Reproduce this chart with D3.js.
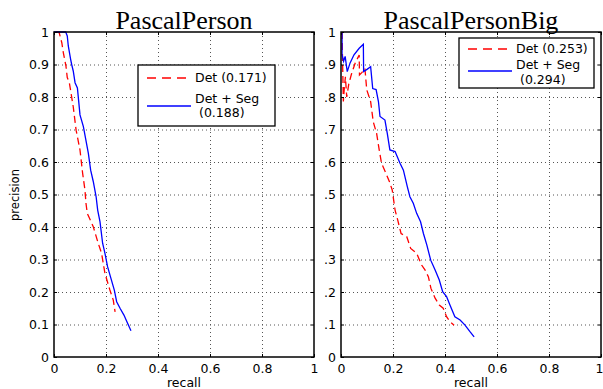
<!DOCTYPE html>
<html>
<head>
<meta charset="utf-8">
<script src="https://cdn.jsdelivr.net/npm/d3@7"></script>
<style>
  body { margin: 0; background: #fff; }
</style>
</head>
<body>
<div id="chart"></div>
<script>
// precision/recall values
var leftDetRecall = [0.008, 0.02, 0.03, 0.036, 0.046, 0.051, 0.059, 0.074, 0.085, 0.1, 0.11, 0.119, 0.123, 0.128, 0.151, 0.17, 0.183, 0.196, 0.215, 0.228, 0.235];
var leftDetPrec   = [1.0, 0.998, 0.967, 0.936, 0.895, 0.86, 0.844, 0.77, 0.698, 0.637, 0.566, 0.514, 0.473, 0.442, 0.401, 0.35, 0.319, 0.257, 0.206, 0.175, 0.139];

var leftSegRecall = [0.0, 0.045, 0.051, 0.055, 0.064, 0.068, 0.074, 0.081, 0.09, 0.1, 0.113, 0.132, 0.141, 0.151, 0.162, 0.168, 0.177, 0.187, 0.196, 0.206, 0.219, 0.232, 0.241, 0.254, 0.269, 0.28, 0.296];
var leftSegPrec   = [1.0, 1.0, 0.988, 0.957, 0.916, 0.9, 0.88, 0.844, 0.828, 0.745, 0.709, 0.627, 0.575, 0.54, 0.493, 0.452, 0.416, 0.35, 0.319, 0.278, 0.242, 0.206, 0.17, 0.15, 0.129, 0.109, 0.081];

var rightDetRecall = [0.004, 0.009, 0.013, 0.017, 0.022, 0.03, 0.04, 0.055, 0.07, 0.071, 0.08, 0.092, 0.099, 0.114, 0.124, 0.137, 0.147, 0.156, 0.173, 0.186, 0.197, 0.208, 0.218, 0.231, 0.253, 0.268, 0.291, 0.31, 0.323, 0.336, 0.346, 0.362, 0.378, 0.393, 0.406, 0.419, 0.435];
var rightDetPrec   = [1.0, 0.786, 0.83, 0.862, 0.8, 0.84, 0.87, 0.905, 0.929, 0.868, 0.875, 0.888, 0.822, 0.786, 0.724, 0.688, 0.637, 0.596, 0.565, 0.54, 0.514, 0.452, 0.422, 0.38, 0.37, 0.334, 0.319, 0.283, 0.268, 0.247, 0.211, 0.181, 0.16, 0.15, 0.124, 0.109, 0.098];

var rightSegRecall = [0.004, 0.004, 0.01, 0.016, 0.024, 0.035, 0.05, 0.07, 0.086, 0.087, 0.1, 0.114, 0.122, 0.135, 0.144, 0.15, 0.169, 0.178, 0.188, 0.208, 0.227, 0.24, 0.255, 0.265, 0.278, 0.291, 0.306, 0.317, 0.33, 0.345, 0.362, 0.378, 0.391, 0.406, 0.419, 0.438, 0.458, 0.477, 0.496, 0.512];
var rightSegPrec   = [1.0, 0.93, 0.91, 0.925, 0.878, 0.905, 0.93, 0.95, 0.962, 0.878, 0.885, 0.893, 0.826, 0.823, 0.786, 0.74, 0.729, 0.688, 0.637, 0.632, 0.596, 0.575, 0.524, 0.493, 0.473, 0.442, 0.416, 0.38, 0.345, 0.298, 0.268, 0.237, 0.201, 0.186, 0.16, 0.124, 0.114, 0.098, 0.078, 0.062];

var titles = ["PascalPerson", "PascalPersonBig"];
var leftLegend = ["Det (0.171)", "Det + Seg", "(0.188)"];
var rightLegend = ["Det (0.253)", "Det + Seg", "(0.294)"];

var xTicks = [0, 0.2, 0.4, 0.6, 0.8, 1];
var yTicks = [0, 0.1, 0.2, 0.3, 0.4, 0.5, 0.6, 0.7, 0.8, 0.9, 1];
var leftYLabels = ["0", "0.1", "0.2", "0.3", "0.4", "0.5", "0.6", "0.7", "0.8", "0.9", "1"];
var rightYLabels = ["0", ".1", ".2", ".3", ".4", ".5", ".6", ".7", ".8", ".9", "1"];

var sans = "'DejaVu Sans', sans-serif";

var svg = d3.select("#chart").append("svg")
  .attr("width", 603)
  .attr("height", 389);

var width = 260, height = 325;

function zip(r, p) { return r.map(function(d, i) { return [d, p[i]]; }); }

function makePanel(left, top, title, yLabels, det, seg, legend, box) {
  var g = svg.append("g").attr("transform", "translate(" + left + "," + top + ")");
  var x = d3.scaleLinear().domain([0, 1]).range([0, width]);
  var y = d3.scaleLinear().domain([0, 1]).range([height, 0]);

  // dotted grid
  g.append("g")
    .attr("transform", "translate(0," + height + ")")
    .call(d3.axisBottom(x).tickValues([0.2, 0.4, 0.6, 0.8]).tickSize(-height).tickFormat(""))
    .call(function(a) { a.select(".domain").remove(); })
    .selectAll("line").attr("stroke", "#555").attr("stroke-dasharray", "1,3");
  g.append("g")
    .call(d3.axisLeft(y).tickValues(yTicks.slice(1, 10)).tickSize(-width).tickFormat(""))
    .call(function(a) { a.select(".domain").remove(); })
    .selectAll("line").attr("stroke", "#555").attr("stroke-dasharray", "1,3");

  // curves
  var line = d3.line().x(function(d) { return x(d[0]); }).y(function(d) { return y(d[1]); });
  g.append("path").datum(det)
    .attr("d", line).attr("fill", "none").attr("stroke", "#ff0000")
    .attr("stroke-width", 1.3).attr("stroke-dasharray", "7,4");
  g.append("path").datum(seg)
    .attr("d", line).attr("fill", "none").attr("stroke", "#0000ff")
    .attr("stroke-width", 1.3);

  // axes with inward ticks
  g.append("g")
    .attr("transform", "translate(0," + height + ")")
    .call(d3.axisBottom(x).tickValues(xTicks).tickSizeInner(-3).tickSizeOuter(0).tickPadding(7)
      .tickFormat(function(d) { return d3.format("")(d); }))
    .selectAll(".tick text").filter(function(d) { return d === 1 && left > 300; })
      .attr("dx", -2);
  g.append("g")
    .call(d3.axisLeft(y).tickValues(yTicks).tickSizeInner(-3).tickSizeOuter(0).tickPadding(5)
      .tickFormat(function(d, i) { return yLabels[i]; }));
  g.append("g")
    .call(d3.axisTop(x).tickValues(xTicks).tickSizeInner(-3).tickSizeOuter(0).tickFormat(""));
  g.append("g")
    .attr("transform", "translate(" + width + ",0)")
    .call(d3.axisRight(y).tickValues(yTicks).tickSizeInner(-3).tickSizeOuter(0).tickFormat(""));

  g.selectAll(".tick text").attr("font-size", 12.5).attr("fill", "#000")
    .style("font-family", sans);
  g.selectAll(".domain").remove();
  g.selectAll(".tick line").filter(function() { return !this.getAttribute("stroke-dasharray"); })
    .attr("stroke", "#000");

  g.append("rect")
    .attr("width", width).attr("height", height)
    .attr("fill", "none").attr("stroke", "#000").attr("stroke-width", 1.5);

  g.append("text")
    .attr("x", width / 2).attr("y", -3)
    .attr("text-anchor", "middle")
    .style("font-family", "'Liberation Serif', 'Times New Roman', serif")
    .attr("font-size", 26)
    .text(title);

  g.append("text")
    .attr("x", width / 2).attr("y", height + 30)
    .attr("text-anchor", "middle")
    .style("font-family", sans)
    .attr("font-size", 12.5)
    .text("recall");

  // legend
  var lg = g.append("g").attr("transform", "translate(" + (box.x - left) + "," + (box.y - top) + ")");
  lg.append("rect").attr("width", box.w).attr("height", box.h)
    .attr("fill", "#fff").attr("stroke", "#000").attr("stroke-width", 1.3);
  lg.append("line").attr("x1", 9).attr("x2", 53).attr("y1", box.r1).attr("y2", box.r1)
    .attr("stroke", "#ff0000").attr("stroke-width", 1.3).attr("stroke-dasharray", "9,6");
  lg.append("line").attr("x1", 9).attr("x2", 53).attr("y1", box.r2).attr("y2", box.r2)
    .attr("stroke", "#0000ff").attr("stroke-width", 1.3);
  lg.append("text").attr("x", 57).attr("y", box.r1).attr("dy", "0.35em")
    .attr("font-size", 12.5).style("font-family", sans).text(legend[0]);
  lg.append("text").attr("x", 57).attr("y", box.t2).attr("dy", "0.35em")
    .attr("font-size", 12.5).style("font-family", sans).text(legend[1]);
  lg.append("text").attr("x", 61).attr("y", box.t3).attr("dy", "0.35em")
    .attr("font-size", 12.5).style("font-family", sans).text(legend[2]);

  return g;
}

makePanel(54, 32, titles[0], leftYLabels,
  zip(leftDetRecall, leftDetPrec), zip(leftSegRecall, leftSegPrec), leftLegend,
  {x: 138, y: 65, w: 137, h: 61, r1: 13, r2: 41, t2: 34, t3: 48});

makePanel(341, 32, titles[1], rightYLabels,
  zip(rightDetRecall, rightDetPrec), zip(rightSegRecall, rightSegPrec), rightLegend,
  {x: 459, y: 38, w: 135, h: 50, r1: 11, r2: 33, t2: 27, t3: 42});

svg.append("text")
  .attr("transform", "translate(19,195) rotate(-90)")
  .attr("text-anchor", "middle")
  .style("font-family", sans)
  .attr("font-size", 11.5)
  .text("precision");
</script>
</body>
</html>
